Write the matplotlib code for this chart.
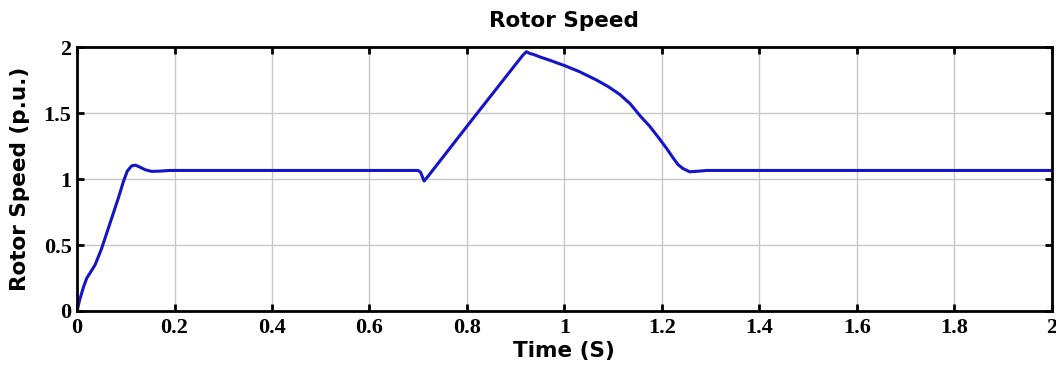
import matplotlib
matplotlib.use("Agg")
import matplotlib.pyplot as plt

# rotor speed trace
time_s = [0, 0.005, 0.013, 0.02, 0.027, 0.037, 0.05, 0.068, 0.085, 0.095,
          0.103, 0.112, 0.12, 0.129, 0.14, 0.153, 0.17, 0.19, 0.3, 0.5,
          0.7, 0.705, 0.712, 0.72, 0.8, 0.9, 0.915, 0.922, 0.93, 0.936,
          0.95, 0.97, 1.0, 1.03, 1.066, 1.09, 1.114, 1.135, 1.155, 1.175,
          1.196, 1.21, 1.223, 1.233, 1.243, 1.257, 1.27, 1.292, 1.4, 2.0]
speed_pu = [0, 0.08, 0.18, 0.25, 0.29, 0.35, 0.47, 0.67, 0.86, 0.98,
            1.06, 1.10, 1.105, 1.09, 1.07, 1.058, 1.06, 1.065, 1.065, 1.065,
            1.065, 1.05, 0.985, 1.02, 1.40, 1.87, 1.94, 1.965, 1.95, 1.945,
            1.925, 1.90, 1.86, 1.815, 1.75, 1.70, 1.64, 1.57, 1.48, 1.40,
            1.30, 1.23, 1.16, 1.11, 1.08, 1.055, 1.058, 1.065, 1.065, 1.065]

xticks = [0, 0.2, 0.4, 0.6, 0.8, 1, 1.2, 1.4, 1.6, 1.8, 2]
xtick_labels = ["0", "0.2", "0.4", "0.6", "0.8", "1", "1.2", "1.4", "1.6", "1.8", "2"]
yticks = [0, 0.5, 1, 1.5, 2]
ytick_labels = ["0", "0.5", "1", "1.5", "2"]

fig = plt.figure(figsize=(10.56, 3.65), dpi=100)
ax = fig.add_axes([0.073, 0.148, 0.923, 0.723])

ax.plot(time_s, speed_pu, color="#1414c8", linewidth=2.2, solid_joinstyle="round")

ax.set_xlim(0, 2)
ax.set_ylim(0, 2)
ax.set_xticks(xticks)
ax.set_xticklabels(xtick_labels)
ax.set_yticks(yticks)
ax.set_yticklabels(ytick_labels)

ax.grid(True, color="#c8c8c8", linewidth=1.0)
ax.tick_params(direction="in", length=5, width=2, top=True, right=True)
ax.tick_params(axis="x", pad=5)
ax.tick_params(axis="y", pad=4)
for lab in ax.get_xticklabels() + ax.get_yticklabels():
    lab.set_fontfamily("Liberation Serif")
    lab.set_fontweight("bold")
    lab.set_fontsize(16)
for sp in ax.spines.values():
    sp.set_linewidth(2)

lab_font = dict(fontfamily="DejaVu Sans", fontweight="bold", fontsize=15.5)
ax.set_title("Rotor Speed", y=1.098, va="center", pad=0, **lab_font)
ax.set_xlabel("Time (S)", va="center", **lab_font)
ax.xaxis.set_label_coords(0.5, -0.152)
ax.set_ylabel("Rotor Speed (p.u.)", va="center", **lab_font)
ax.yaxis.set_label_coords(-0.0585, 0.5)

fig.savefig("out.png", dpi=100)
